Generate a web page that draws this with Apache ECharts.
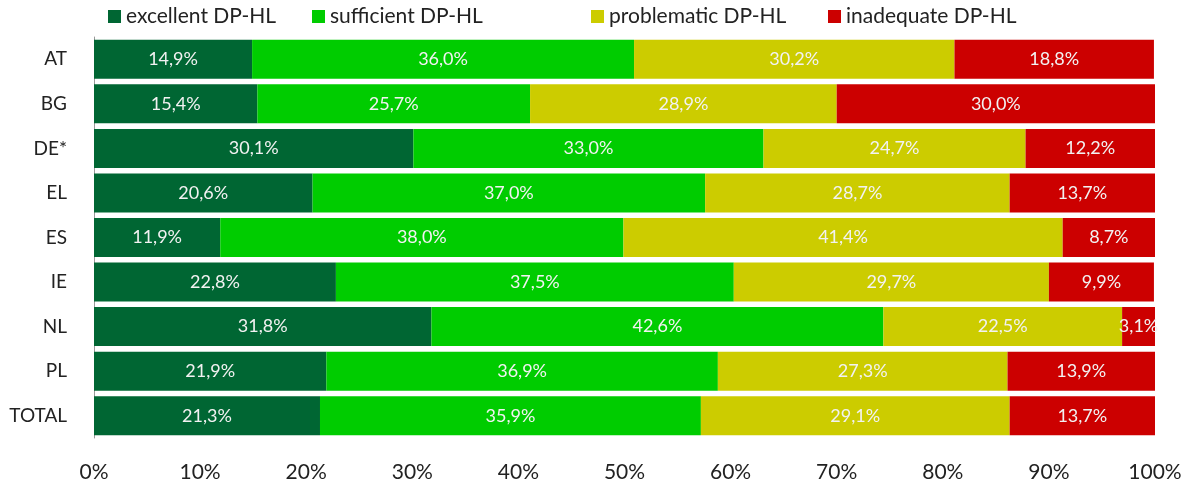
<!DOCTYPE html>
<html>
<head>
<meta charset="utf-8">
<script src="https://cdn.jsdelivr.net/npm/echarts@6/dist/echarts.min.js"></script>
<style>
  html, body { margin: 0; padding: 0; background: #fff; }
  #chart { width: 1186px; height: 484px; }
</style>
</head>
<body>
<div id="chart"></div>
<script>
const countries = ["AT", "BG", "DE*", "EL", "ES", "IE", "NL", "PL", "TOTAL"];
const excellent = [14.9, 15.4, 30.1, 20.6, 11.9, 22.8, 31.8, 21.9, 21.3];
const sufficient = [36.0, 25.7, 33.0, 37.0, 38.0, 37.5, 42.6, 36.9, 35.9];
const problematic = [30.2, 28.9, 24.7, 28.7, 41.4, 29.7, 22.5, 27.3, 29.1];
const inadequate = [18.8, 30.0, 12.2, 13.7, 8.7, 9.9, 3.1, 13.9, 13.7];
const seriesNames = ["excellent DP-HL", "sufficient DP-HL", "problematic DP-HL", "inadequate DP-HL"];
const xTicks = ["0%", "10%", "20%", "30%", "40%", "50%", "60%", "70%", "80%", "90%", "100%"];

const font = "Lato, 'Open Sans', sans-serif";
const myChart = echarts.init(document.getElementById("chart"));

function makeSeries(name, data, color) {
  return {
    name: name,
    type: "bar",
    stack: "all",
    barWidth: 39,
    data: data,
    itemStyle: { color: color },
    label: {
      show: true,
      position: "inside",
      color: "#f2f2f2",
      fontFamily: font,
      fontSize: 18,
      formatter: p => p.value.toFixed(1).replace(".", ",") + "%"
    }
  };
}

// one legend per item so the spacing follows the original
const legendLeft = [108, 312, 591, 828];
const legends = seriesNames.map((n, i) => ({
  top: 6,
  left: legendLeft[i],
  padding: 0,
  itemWidth: 13,
  itemHeight: 13,
  itemGap: 6,
  icon: "rect",
  textStyle: { fontFamily: font, fontSize: 21, color: "#222" },
  data: [n]
}));

const option = {
  animation: false,
  legend: legends,
  grid: { left: 94, right: 31, top: 37, bottom: 46 },
  xAxis: {
    type: "value",
    min: 0,
    max: 100,
    interval: 10,
    splitLine: { show: false },
    axisLine: { show: false },
    axisTick: { show: false },
    axisLabel: {
      margin: 24,
      fontFamily: font,
      fontSize: 21,
      color: "#222",
      formatter: v => xTicks[Math.round(v / 10)]
    }
  },
  yAxis: {
    type: "category",
    data: countries,
    inverse: true,
    axisTick: { show: false },
    axisLine: { show: true, lineStyle: { color: "#999", width: 1 } },
    axisLabel: { margin: 27, fontFamily: font, fontSize: 19, color: "#222" }
  },
  series: [
    makeSeries(seriesNames[0], excellent, "#006633"),
    makeSeries(seriesNames[1], sufficient, "#00cc00"),
    makeSeries(seriesNames[2], problematic, "#cccc00"),
    makeSeries(seriesNames[3], inadequate, "#cc0000")
  ]
};
myChart.setOption(option);
</script>
</body>
</html>
